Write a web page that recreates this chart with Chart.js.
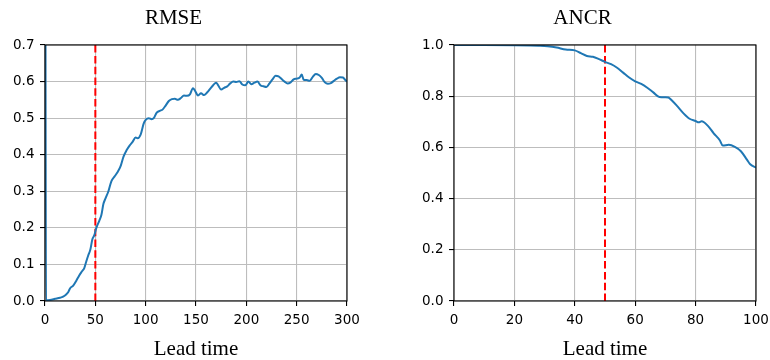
<!DOCTYPE html>
<html><head><meta charset="utf-8">
<script src="https://cdn.jsdelivr.net/npm/chart.js@4.4.1/dist/chart.umd.min.js"></script>
<style>
html,body{margin:0;padding:0;background:#fff;}
#wrap{position:relative;width:770px;height:360px;}
canvas{position:absolute;left:0;top:0;}
</style></head>
<body><div id="wrap"><canvas id="c1" width="770" height="360"></canvas><canvas id="c2" width="770" height="360"></canvas></div>
<script>
// RMSE panel data
const rmseLead = [0,1,5,10,15,18,21,23,25,28,31,34,37,39,41,43,45,47,49,51,54,56,58,60,63,66,69,72,75,78,81,84,87,90,92,95,98,100,103,106,108,111,114,117,120,123,126,129,132,135,138,141,144,147,149,152,155,158,161,164,167,170,172,175,178,181,184,187,190,193,196,199,202,205,208,211,214,217,220,223,226,229,232,235,238,241,244,247,250,253,255,257,260,263,266,269,272,275,278,281,284,287,290,293,296,299,300];
const rmseValues = [2.0,0.002,0.003,0.006,0.009,0.012,0.018,0.024,0.035,0.042,0.055,0.07,0.082,0.09,0.108,0.125,0.14,0.168,0.18,0.2,0.22,0.235,0.265,0.28,0.3,0.328,0.34,0.352,0.368,0.395,0.412,0.425,0.435,0.447,0.445,0.455,0.485,0.495,0.5,0.497,0.5,0.515,0.52,0.524,0.535,0.547,0.552,0.553,0.55,0.555,0.562,0.561,0.565,0.582,0.575,0.562,0.568,0.563,0.57,0.58,0.59,0.597,0.59,0.578,0.583,0.587,0.595,0.6,0.599,0.601,0.592,0.59,0.6,0.593,0.597,0.6,0.59,0.587,0.585,0.595,0.606,0.616,0.614,0.607,0.6,0.595,0.598,0.606,0.608,0.611,0.619,0.605,0.604,0.602,0.613,0.621,0.618,0.61,0.598,0.594,0.596,0.602,0.608,0.612,0.611,0.602,0.6];
// ANCR panel data
const ancrLead = [0,10,20,25,28,31,34,37,40,42,44,46,48,50,52,54,56,58,60,62,64,66,68,70,71,72,74,76,78,80,81,82,84,86,88,89,91,93,95,97,98,100];
const ancrValues = [1.0,1.0,0.999,0.998,0.997,0.995,0.99,0.982,0.979,0.968,0.957,0.954,0.945,0.934,0.925,0.911,0.892,0.873,0.858,0.848,0.833,0.815,0.797,0.796,0.795,0.785,0.76,0.733,0.712,0.703,0.698,0.702,0.685,0.655,0.628,0.607,0.61,0.602,0.585,0.552,0.535,0.521];
// reference line
const cutoffLead = 50;
const titles = ['RMSE','ANCR'];
const xLabel = 'Lead time';

const spines = {
  id:'spines',
  afterDatasetsDraw(chart){
    const a = chart.chartArea, ctx = chart.ctx;
    ctx.save(); ctx.strokeStyle='#000'; ctx.lineWidth=1.1;
    ctx.strokeRect(a.left, a.top, a.right-a.left, a.bottom-a.top);
    ctx.restore();
  }
};

function makeChart(id, title, lead, vals, xmax, xstep, ymax, ystep, padL, padR){
  const pts = lead.map((x,i)=>({x:x,y:vals[i]}));
  const tickFont = {family:'DejaVu Sans', size:13.5};
  return new Chart(document.getElementById(id), {
    type:'line',
    data:{datasets:[
      {data:pts, borderColor:'#1f77b4', borderWidth:2, pointRadius:0, tension:0.2, cubicInterpolationMode:'monotone', clip:0},
      {data:[{x:cutoffLead,y:0},{x:cutoffLead,y:ymax}], borderColor:'#ff0000', borderWidth:2, borderDash:[7.5,3.3], pointRadius:0, clip:0}
    ]},
    options:{
      responsive:false, animation:false, devicePixelRatio:1,
      layout:{padding:{left:padL,right:padR,top:0,bottom:0}},
      plugins:{legend:{display:false}, tooltip:{enabled:false},
        title:{display:true, text:title, color:'#000', font:{family:'Liberation Serif', size:21, weight:'normal', lineHeight:1}, padding:{top:7.5,bottom:16.5}}},
      scales:{
        x:{type:'linear', min:0, max:xmax,
          ticks:{stepSize:xstep, color:'#000', font:tickFont, padding:6, maxRotation:0},
          grid:{color:'#bdbdbd', lineWidth:1.1, drawTicks:true, tickLength:5, tickColor:'#000', tickWidth:1.1},
          border:{display:false},
          title:{display:true, text:xLabel, color:'#000', font:{family:'Liberation Serif', size:21, lineHeight:1}, padding:{top:0,bottom:0}},
          afterFit(s){ s.height = 59; s.paddingLeft = 0; s.paddingRight = 0; }
        },
        y:{type:'linear', min:0, max:ymax,
          ticks:{stepSize:ystep, color:'#000', font:tickFont, padding:5.5, callback:v=>Number(v).toFixed(1)},
          grid:{color:'#bdbdbd', lineWidth:1.1, drawTicks:true, tickLength:5, tickColor:'#000', tickWidth:1.1},
          border:{display:false},
          afterFit(s){ s.width = 45; s.paddingTop = 0; s.paddingBottom = 0; }
        }
      }
    },
    plugins:[spines]
  });
}
makeChart('c1', titles[0], rmseLead, rmseValues, 300, 50, 0.7, 0.1, 0, 423);
makeChart('c2', titles[1], ancrLead, ancrValues, 100, 20, 1.0, 0.2, 409, 14);
</script></body></html>
